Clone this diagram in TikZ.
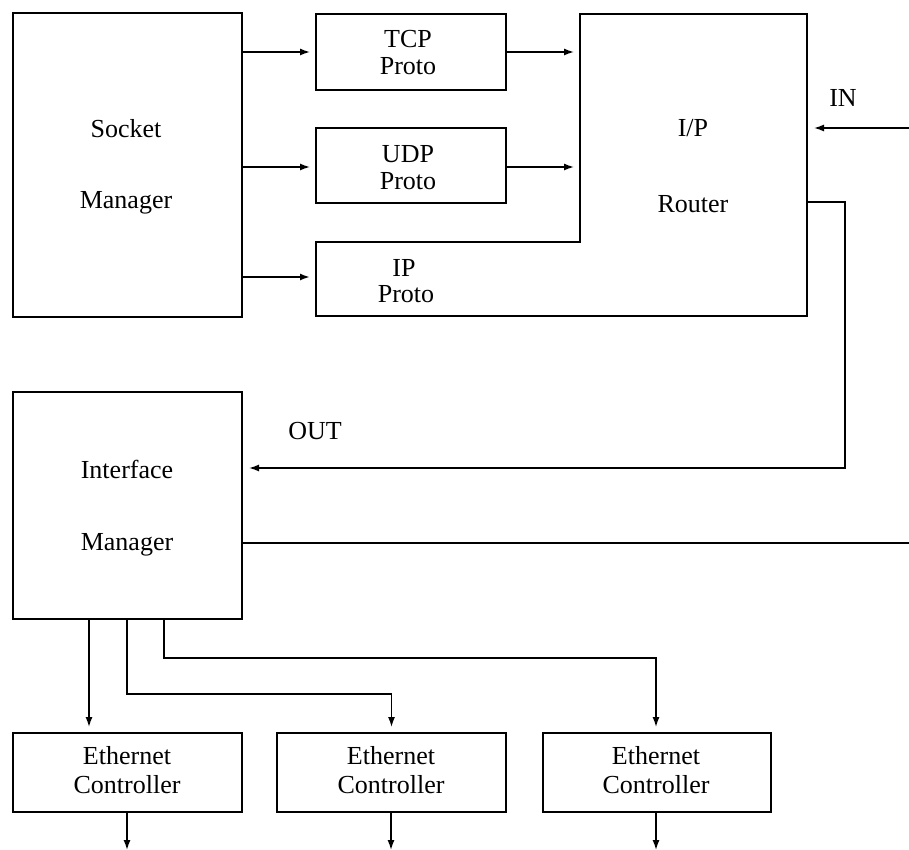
\documentclass[tikz,border=0pt]{standalone}
\usepackage{fontspec}
\setmainfont{Liberation Serif}
\usetikzlibrary{arrows.meta}
\begin{document}
\begin{tikzpicture}[x=1pt,y=-1pt,
  box/.style={draw,line width=2pt,inner sep=0pt,anchor=north west},
  lbl/.style={font=\fontsize{26}{30}\selectfont,inner sep=0pt,text height=0.68em,text depth=0.2em,yshift=-6pt},
  conn/.style={line width=1.4pt},
  arr/.style={conn,-{Latex[length=10pt,width=7pt]}}]
\useasboundingbox (0,0) rectangle (909,850);
% boxes
\node[box,minimum width=229pt,minimum height=304pt] (sock) at (12,12) {};
\node[box,minimum width=190pt,minimum height=76pt] (tcp) at (315,13) {};
\node[box,minimum width=190pt,minimum height=75pt] (udp) at (315,127) {};
\node[box,minimum width=229pt,minimum height=227pt] (im) at (12,391) {};
\node[box,minimum width=229pt,minimum height=79pt] (eth1) at (12,732) {};
\node[box,minimum width=229pt,minimum height=79pt] (eth2) at (276,732) {};
\node[box,minimum width=228pt,minimum height=79pt] (eth3) at (542,732) {};
% router + IP proto combined outline
\coordinate (ipnw) at (316,242);
\coordinate (step) at (580,242);
\coordinate (rnw) at (580,14);
\coordinate (rne) at (807,14);
\coordinate (rse) at (807,316);
\coordinate (ipsw) at (316,316);
\draw[line width=2pt,line join=miter] (ipnw) -- (step) -- (rnw) -- (rne) -- (rse) -- (ipsw) -- cycle;
% labels
\node[lbl] (sockA) at (126,129) {Socket};
\node[lbl] (sockB) at (126,200) {Manager};
\node[lbl] (tcpA) at (408,39) {TCP};
\node[lbl] (tcpB) at (408,66) {Proto};
\node[lbl] (udpA) at (408,154) {UDP};
\node[lbl] (udpB) at (408,181) {Proto};
\node[lbl] (ipA) at (404,268) {IP};
\node[lbl] (ipB) at (406,294) {Proto};
\node[lbl] (rA) at (693,128) {I/P};
\node[lbl] (rB) at (693,204) {Router};
\node[lbl] (in) at (843,98) {IN};
\node[lbl] (out) at (315,431) {OUT};
\node[lbl] (imA) at (127,470) {Interface};
\node[lbl] (imB) at (127,542) {Manager};
\node[lbl] (e1A) at (127,756) {Ethernet};
\node[lbl] (e1B) at (127,785) {Controller};
\node[lbl] (e2A) at (391,756) {Ethernet};
\node[lbl] (e2B) at (391,785) {Controller};
\node[lbl] (e3A) at (656,756) {Ethernet};
\node[lbl] (e3B) at (656,785) {Controller};
% free ends
\coordinate (inS) at (909,128);
\coordinate (imR) at (909,543);
\coordinate (o1) at (127,850);
\coordinate (o2) at (391,850);
\coordinate (o3) at (656,850);
% connectors
\draw[arr,shorten >=5pt] (sock.east |- 0,52) -- (tcp.west |- 0,52);
\draw[arr,shorten >=5pt] (sock.east |- 0,167) -- (udp.west |- 0,167);
\draw[arr,line width=1.8pt,shorten >=6pt] (sock.east |- 0,277) -- (ipnw |- 0,277);
\draw[arr,shorten >=6pt] (tcp.east |- 0,52) -- (rnw |- 0,52);
\draw[arr,shorten >=6pt] (udp.east |- 0,167) -- (rnw |- 0,167);
\draw[arr,shorten >=7pt] (inS) -- (rne |- inS);
\draw[arr,shorten >=6pt] (rne |- 0,202) -- (845,202) -- (845,468) -- (im.east |- 0,468);
\draw[conn] (im.east |- imR) -- (imR);
\draw[arr,shorten >=5pt] (im.south -| 89,0) -- (eth1.north -| 89,0);
\draw[arr,shorten >=5pt] (im.south -| 127,0) -- (127,694) -| (eth2.north);
\draw[arr,shorten >=5pt] (im.south -| 164,0) -- (164,658) -| (eth3.north -| 656,0);
\draw[arr] (eth1.south -| o1) -- (o1);
\draw[arr] (eth2.south -| o2) -- (o2);
\draw[arr] (eth3.south -| o3) -- (o3);
\end{tikzpicture}
\end{document}
